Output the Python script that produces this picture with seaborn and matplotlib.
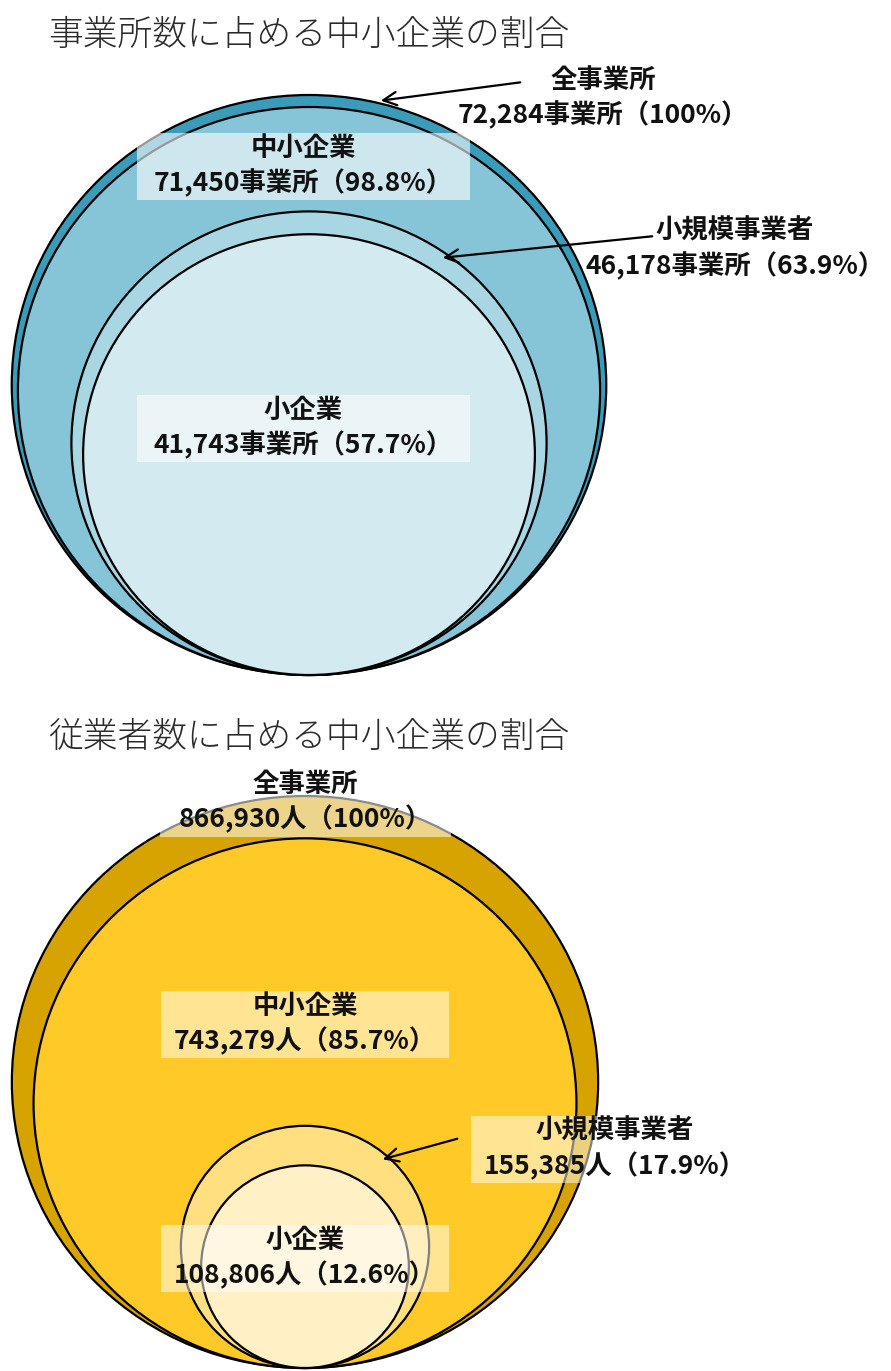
import numpy as np
import matplotlib
matplotlib.use("Agg")
import matplotlib.pyplot as plt
from matplotlib.patches import Ellipse, Rectangle
import seaborn as sns

# data
groups = ["全事業所", "中小企業", "小規模事業者", "小企業"]
office_counts = [72284, 71450, 46178, 41743]
office_pcts = ["100%", "98.8%", "63.9%", "57.7%"]
worker_counts = [866930, 743279, 155385, 108806]
worker_pcts = ["100%", "85.7%", "17.9%", "12.6%"]

office_colors = ["#3b9cba", "#86c5d7", "#a9d6e3", "#d4eaf1"]
worker_colors = ["#d6a300", "#ffc928", "#ffdf80", "#fff0c6"]

sns.set_theme(style="white")
plt.rcParams["font.family"] = ["Noto Sans CJK JP", "DejaVu Sans"]

W, H = 891, 1371
fig = plt.figure(figsize=(W / 100, H / 100), dpi=100)
ax = fig.add_axes([0, 0, 1, 1])
ax.set_xlim(0, W)
ax.set_ylim(H, 0)
ax.axis("off")

XSTRETCH = 1.025
MIN_GAP = 6  # keep nested rings visible


def draw_circles(counts, colors, cx, bottom, R):
    total = counts[0]
    prev = None
    for i, (c, col) in enumerate(zip(counts, colors)):
        r = R * np.sqrt(c / total)
        if prev is not None:
            r = min(r, prev - MIN_GAP)
        prev = r
        e = Ellipse((cx, bottom - r), 2 * r * XSTRETCH, 2 * r,
                    facecolor=col, edgecolor="black", lw=1.6, zorder=2 + i)
        ax.add_patch(e)


def label(x, y, name, value, unit, pct, box=None, alpha=0.55, bw=290, bh=67):
    txt = f"{name}\n{value:,}{unit}（{pct}）"
    if box is not None:
        ax.add_patch(Rectangle((x - bw / 2, y - bh / 2), bw, bh,
                               facecolor=box, edgecolor="none", alpha=alpha,
                               zorder=9))
    ax.text(x, y, txt, ha="center", va="center", fontsize=19,
            fontweight="bold", color="#111111", linespacing=1.3, zorder=10)


def arrow(x0, y0, x1, y1):
    ax.annotate("", xy=(x1, y1), xytext=(x0, y0),
                arrowprops=dict(arrowstyle="->", color="black", lw=1.6,
                                mutation_scale=24), zorder=11)


# top chart: offices
ax.text(48, 35, "事業所数に占める中小企業の割合", fontsize=25, va="center",
        ha="left", color="#2a2a2a", fontweight="light")
draw_circles(office_counts, office_colors, 309, 675, 290)
label(603, 98, groups[0], office_counts[0], "事業所", office_pcts[0])
arrow(523, 82, 378, 101)
label(303, 166, groups[1], office_counts[1], "事業所", office_pcts[1],
      box="white", alpha=0.6, bw=333)
label(735, 249, groups[2], office_counts[2], "事業所", office_pcts[2])
arrow(655, 236, 440, 258)
label(303, 428, groups[3], office_counts[3], "事業所", office_pcts[3],
      box="white", alpha=0.55, bw=333)

# bottom chart: workers
ax.text(48, 737, "従業者数に占める中小企業の割合", fontsize=25, va="center",
        ha="left", color="#2a2a2a", fontweight="light")
draw_circles(worker_counts, worker_colors, 305, 1368, 286)
label(305, 802, groups[0], worker_counts[0], "人", worker_pcts[0],
      box="white", alpha=0.55, bw=291, bh=69)
label(305, 1024, groups[1], worker_counts[1], "人", worker_pcts[1],
      box="white", alpha=0.5, bw=288)
label(615, 1149, groups[2], worker_counts[2], "人", worker_pcts[2],
      box="white", alpha=0.5, bw=289)
arrow(460, 1138, 380, 1160)
label(305, 1258, groups[3], worker_counts[3], "人", worker_pcts[3],
      box="white", alpha=0.5, bw=288)

fig.savefig("out.png", dpi=100)
